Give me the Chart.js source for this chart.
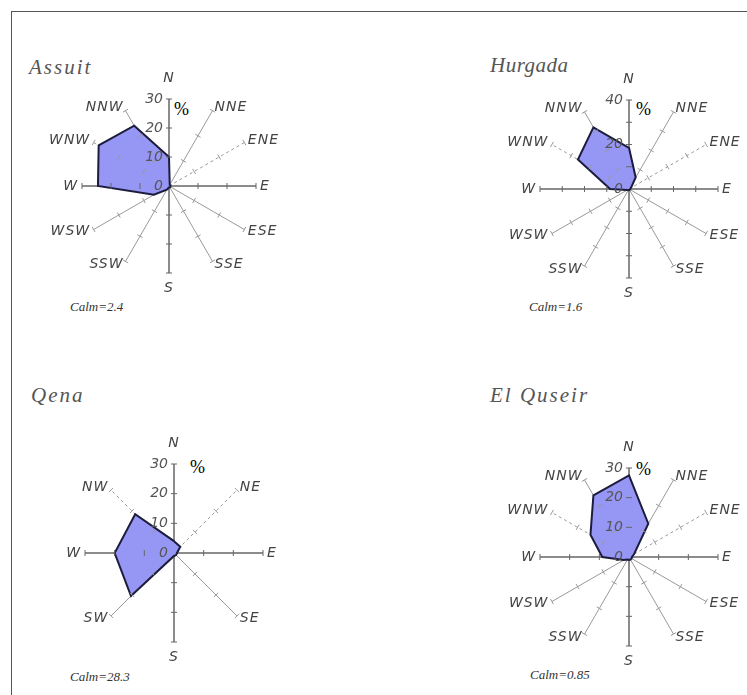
<!DOCTYPE html>
<html lang="en">
<head>
<meta charset="UTF-8">
<title>Wind roses</title>
<script src="https://cdn.jsdelivr.net/npm/chart.js"></script>
<style>
  body { margin: 0; background: #fff; width: 747px; height: 695px; position: relative; overflow: hidden; }
  .frame { position: absolute; left: 11px; top: 11px; width: 760px; height: 700px; border: 1.5px solid #555; }
  canvas { position: absolute; }
  .title { position: absolute; font-family: "Liberation Serif", serif; font-style: italic; font-size: 21px; color: #555; letter-spacing: 2px; }
  .calm { position: absolute; font-family: "Liberation Serif", serif; font-style: italic; font-size: 13px; color: #333; }
  .pct { position: absolute; font-family: "Liberation Serif", serif; font-size: 18px; color: #000; }
</style>
</head>
<body>
<div class="frame"></div>

<div class="title" style="left:29px; top:55px;">Assuit</div>
<div class="title" style="left:490px; top:53px; letter-spacing:0.5px;">Hurgada</div>
<div class="title" style="left:31px; top:383px;">Qena</div>
<div class="title" style="left:490px; top:383px;">El Quseir</div>

<div class="pct" style="left:174px; top:99px;">%</div>
<div class="pct" style="left:636px; top:99px;">%</div>
<div class="pct" style="left:190px; top:457px;">%</div>
<div class="pct" style="left:636px; top:459px;">%</div>

<div class="calm" style="left:70px; top:299px;">Calm=2.4</div>
<div class="calm" style="left:529px; top:299px;">Calm=1.6</div>
<div class="calm" style="left:70px; top:669px;">Calm=28.3</div>
<div class="calm" style="left:530px; top:667px;">Calm=0.85</div>

<canvas id="assuit" width="260" height="250" style="left:39px; top:61px;"></canvas>
<canvas id="hurgada" width="260" height="250" style="left:499px; top:64px;"></canvas>
<canvas id="qena" width="260" height="250" style="left:44px; top:428px;"></canvas>
<canvas id="quseir" width="260" height="250" style="left:499px; top:432px;"></canvas>

<script>
// direction labels
const dirs12 = ['N', 'NNE', 'ENE', 'E', 'ESE', 'SSE', 'S', 'SSW', 'WSW', 'W', 'WNW', 'NNW'];
const dirs8 = ['N', 'NE', 'E', 'SE', 'S', 'SW', 'W', 'NW'];

// frequencies (%)
const assuitValues = [10, 0.5, 0.5, 0.5, 0.5, 0.5, 0.5, 1.5, 6, 24.5, 28, 24];
const hurgadaValues = [18.5, 6, 1, 0.5, 0.5, 0.5, 0.5, 0.5, 1, 8.5, 26.5, 32];
const qenaValues = [4, 3, 1, 1, 1, 20.5, 20, 18.5];
const quseirValues = [27.5, 13, 2, 1, 1, 1, 1, 1, 2, 9, 15, 24];

// axis tick labels
const ticks30 = [0, 10, 20, 30];
const ticks40 = [0, 20, 40];
const spokeTicks40 = [10, 20, 30, 40];

const compass = ['N', 'E', 'S', 'W'];

// spoke marks, direction names and the tick labels on the N axis
const roseExtras = {
    id: 'roseExtras',
    afterDatasetsDraw(chart, args, opts) {
        const s = chart.scales.r;
        const ctx = chart.ctx;
        const nomes = chart.data.labels;
        ctx.save();
        for (let i = 0; i < nomes.length; i++) {
            const a = s.getIndexAngle(i) - Math.PI / 2;
            const nx = -Math.sin(a), ny = Math.cos(a);
            const main = compass.includes(nomes[i]);
            ctx.strokeStyle = main ? '#666' : '#999';
            ctx.lineWidth = 1;
            opts.marks.forEach(function (v) {
                const p = s.getPointPosition(i, s.getDistanceFromCenterForValue(v));
                ctx.beginPath();
                ctx.moveTo(p.x - nx * 3, p.y - ny * 3);
                ctx.lineTo(p.x + nx * 3, p.y + ny * 3);
                ctx.stroke();
            });

            // direction name at the end of the spoke
            const p = s.getPointPosition(i, s.drawingArea + 4);
            const c = Math.cos(a);
            ctx.fillStyle = '#444';
            ctx.font = 'italic 14px "DejaVu Sans"';
            ctx.letterSpacing = '1px';
            if (Math.abs(c) < 0.01) {
                ctx.textAlign = 'center';
                if (p.y < s.yCenter) {
                    ctx.textBaseline = 'bottom';
                    ctx.fillText(nomes[i], p.x, p.y - 10);
                } else {
                    ctx.textBaseline = 'top';
                    ctx.fillText(nomes[i], p.x, p.y + 4);
                }
            } else {
                ctx.textAlign = c > 0 ? 'left' : 'right';
                ctx.textBaseline = 'middle';
                ctx.fillText(nomes[i], p.x, p.y);
            }
        }
        // tick labels left of the N axis
        ctx.letterSpacing = '0px';
        ctx.fillStyle = '#555';
        ctx.font = 'italic 14px "DejaVu Sans"';
        ctx.textAlign = 'right';
        ctx.textBaseline = 'middle';
        opts.labels.forEach(function (v) {
            const d = s.getDistanceFromCenterForValue(v);
            ctx.fillText(String(v), s.xCenter - 6, s.yCenter - d);
        });
        ctx.restore();
    }
};

function drawRose(id, labels, values, maxVal, tickLabels, marks, dashed, raio) {
    const dados = {
        labels: labels,
        datasets: [{
            data: values,
            fill: true,
            backgroundColor: 'rgb(150, 150, 245)',
            borderColor: '#1c1c3c',
            borderWidth: 2,
            pointRadius: 0
        }]
    };

    // padding leaves a plot square of 2*raio in the middle of the 260x250 canvas
    const config = {
        type: 'radar',
        data: dados,
        options: {
            responsive: false,
            animation: false,
            layout: {
                padding: { left: 130 - raio, right: 130 - raio, top: 125 - raio, bottom: 125 - raio }
            },
            plugins: {
                legend: { display: false },
                tooltip: { enabled: false },
                roseExtras: { labels: tickLabels, marks: marks }
            },
            scales: {
                r: {
                    min: 0,
                    max: maxVal,
                    ticks: { display: false, stepSize: 10 },
                    grid: { display: false },
                    pointLabels: { display: false },
                    angleLines: {
                        color: function (c) { return compass.includes(labels[c.index]) ? '#666' : '#999'; },
                        borderDash: function (c) { return dashed.includes(labels[c.index]) ? [3, 3] : []; },
                        lineWidth: function (c) { return compass.includes(labels[c.index]) ? 1.5 : 1; }
                    }
                }
            }
        },
        plugins: [roseExtras]
    };

    return new Chart(document.getElementById(id), config);
}

drawRose('assuit', dirs12, assuitValues, 30, ticks30, [10, 20, 30], ['WNW', 'ENE'], 87);
drawRose('hurgada', dirs12, hurgadaValues, 40, ticks40, spokeTicks40, ['WNW', 'ENE'], 89);
drawRose('qena', dirs8, qenaValues, 30, ticks30, [10, 20, 30], ['NW', 'NE'], 89);
drawRose('quseir', dirs12, quseirValues, 30, ticks30, [10, 20, 30], ['WNW', 'ENE'], 89);
</script>
</body>
</html>
